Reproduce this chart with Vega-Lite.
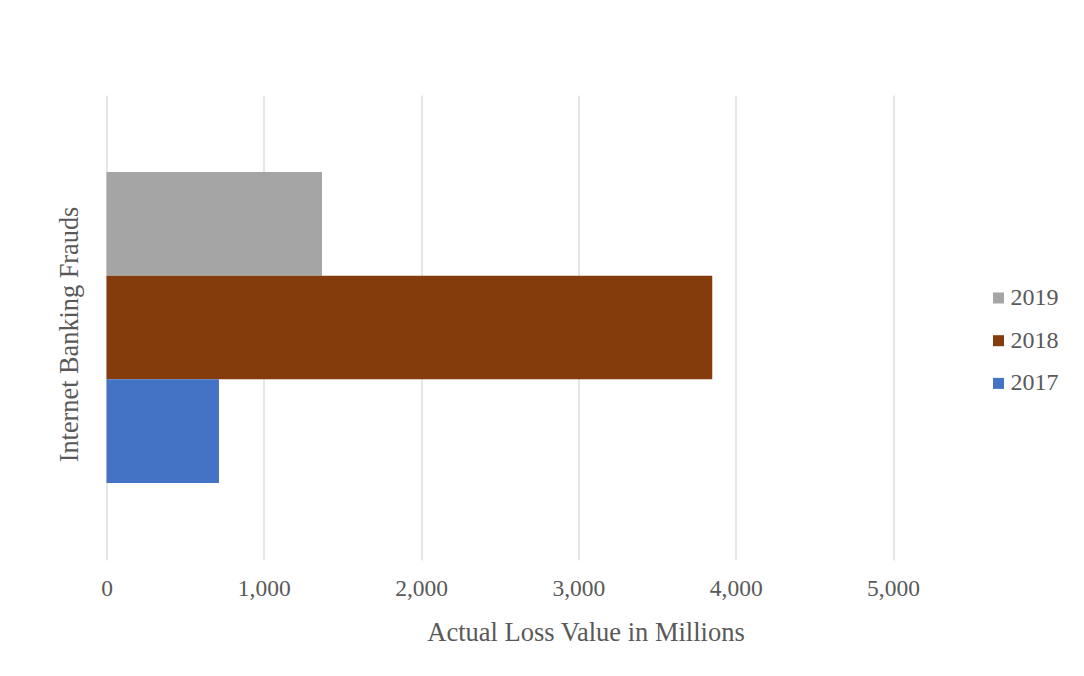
{
  "$schema": "https://vega.github.io/schema/vega-lite/v6.json",
  "width": 786.5,
  "height": 465,
  "autosize": {"type": "none"},
  "padding": {"left": 106.5, "top": 95, "right": 191, "bottom": 116},
  "background": "white",
  "data": {
    "values": [
      {"category": "Internet Banking Frauds", "year": "2019", "value": 1370},
      {"category": "Internet Banking Frauds", "year": "2018", "value": 3851},
      {"category": "Internet Banking Frauds", "year": "2017", "value": 715}
    ]
  },
  "mark": {"type": "bar"},
  "encoding": {
    "y": {
      "field": "year",
      "type": "nominal",
      "scale": {"domain": ["2019", "2018", "2017"], "paddingInner": 0, "paddingOuter": 0.742},
      "axis": {
        "title": "Internet Banking Frauds",
        "labels": false,
        "ticks": false,
        "domain": false,
        "grid": false,
        "titlePadding": 23,
        "titleY": 239,
        "titleFont": "Liberation Serif",
        "titleFontSize": 26.3,
        "titleFontWeight": "normal",
        "titleColor": "#595959"
      }
    },
    "x": {
      "field": "value",
      "type": "quantitative",
      "scale": {"domain": [0, 5000], "nice": false},
      "axis": {
        "values": [0, 1000, 2000, 3000, 4000, 5000],
        "format": ",.0f",
        "title": "Actual Loss Value in Millions",
        "domain": false,
        "ticks": false,
        "grid": true,
        "gridColor": "#d9d9d9",
        "gridWidth": 1.3,
        "labelFlush": false,
        "labelFont": "Liberation Serif",
        "labelFontSize": 23.5,
        "labelColor": "#595959",
        "labelPadding": 16,
        "titleFont": "Liberation Serif",
        "titleFontSize": 26.5,
        "titleFontWeight": "normal",
        "titleColor": "#595959",
        "titlePadding": 20,
        "titleX": 479,
        "titleAlign": "center"
      }
    },
    "color": {
      "field": "year",
      "type": "nominal",
      "scale": {"domain": ["2019", "2018", "2017"], "range": ["#a5a5a5", "#843c0c", "#4472c4"]},
      "legend": {
        "title": null,
        "orient": "none",
        "legendX": 880,
        "legendY": 191,
        "padding": 0,
        "symbolType": "square",
        "symbolSize": 121,
        "symbolStrokeWidth": 0,
        "symbolOpacity": 1,
        "labelFont": "Liberation Serif",
        "labelFontSize": 24,
        "labelColor": "#595959",
        "labelOffset": 0,
        "rowPadding": 18.7
      }
    }
  },
  "config": {"view": {"stroke": null}}
}
